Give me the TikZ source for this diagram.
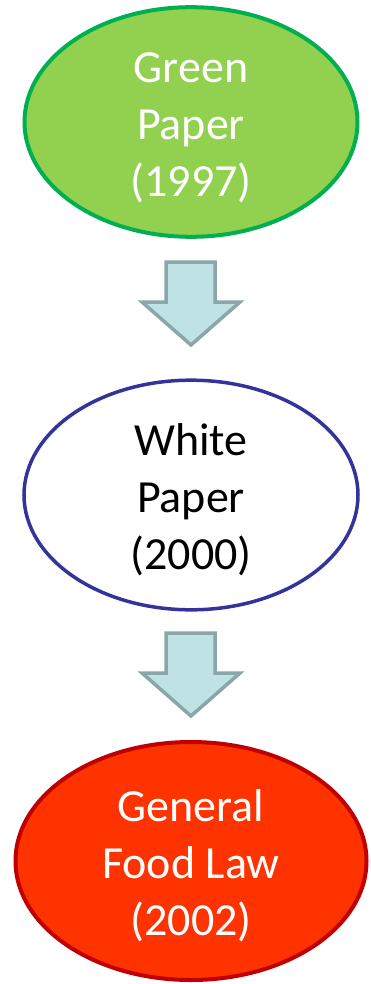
\documentclass[tikz,border=0pt]{standalone}
\usepackage{fontspec}
\setmainfont{Carlito}
\usetikzlibrary{shapes.geometric}

\definecolor{greenfill}{HTML}{92D050}
\definecolor{greenline}{HTML}{00B050}
\definecolor{blueline}{HTML}{333399}
\definecolor{redfill}{HTML}{FF3300}
\definecolor{redline}{HTML}{C00000}
\definecolor{arrowfill}{HTML}{BFE2E4}
\definecolor{arrowline}{HTML}{8AA6A8}

\begin{document}
\begin{tikzpicture}[x=1pt, y=-1pt,
  paper/.style={draw, ellipse, align=center, inner sep=0pt, text height=156pt,
    font=\fontsize{46}{57}\selectfont},
  blockarrow/.style={draw=arrowline, fill=arrowfill, line width=3.5pt, line join=miter}]
  \useasboundingbox (0,0) rectangle (371,984);
  \node[paper, fill=greenfill, draw=greenline, line width=4pt, text=white,
    minimum width=333pt, minimum height=228pt] (green) at (191,122) {Green\\Paper\\(1997)};
  \node[paper, fill=white, draw=blueline, line width=3.5pt, text=black,
    minimum width=334pt, minimum height=224pt] (white) at (191,495) {White\\Paper\\(2000)};
  \node[paper, fill=redfill, draw=redline, line width=4pt, text=white,
    minimum width=351pt, minimum height=238pt] (law) at (191,861) {General\\Food Law\\(2002)};
  % Draw the block arrows between the papers
  \draw[blockarrow] (166,262) -- (215,262) -- (215,302) -- (240,302) -- (191,345)
    -- (142,302) -- (166,302) -- cycle;
  \draw[blockarrow] (166,633) -- (215,633) -- (215,673) -- (240,673) -- (191,716)
    -- (142,673) -- (166,673) -- cycle;
\end{tikzpicture}
\end{document}
